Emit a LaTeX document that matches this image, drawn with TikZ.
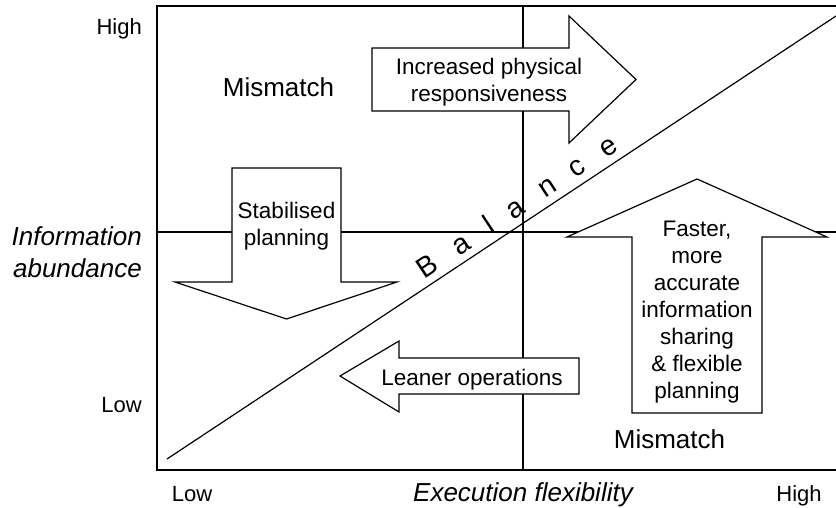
\documentclass[tikz,border=0pt]{standalone}
\usepackage{fontspec}
\setmainfont{Liberation Sans}
\usetikzlibrary{calc}
\begin{document}
\begin{tikzpicture}[x=1pt,y=-1pt,
  rule/.style={line width=1.3pt},
  bigarrow/.style={draw, fill=white, line width=1.2pt, line join=miter},
  small/.style={font=\fontsize{22.5}{27}\selectfont, align=center, inner sep=0pt},
  big/.style={font=\fontsize{26}{31}\selectfont, inner sep=0pt},
  axis/.style={font=\fontsize{26}{31.5}\selectfont\itshape, inner sep=0pt},
  tick/.style={font=\fontsize{22}{26}\selectfont, inner sep=0pt},
  letter/.style={font=\fontsize{28.5}{32}\selectfont, inner sep=0pt, anchor=base, rotate=33.5}]
\useasboundingbox (0,0) rectangle (836,508);

% frame, open towards the right edge
\coordinate (tl) at (157,6);   \coordinate (bl) at (157,470);
\coordinate (tr) at (842,6);   \coordinate (br) at (842,470);
\draw[rule] (tr) -- (tl) -- (bl) -- (br);

% quadrant dividers
\coordinate (ml) at (157,232); \coordinate (mr) at (842,232);
\coordinate (mt) at (523,6);   \coordinate (mb) at (523,470);
\draw[rule] (ml) -- (mr);
\draw[rule] (mt) -- (mb);

% balance line
\coordinate (d0) at (167,459); \coordinate (d1) at (836,16);
\draw[line width=1.2pt] (d0) -- (d1);

% block arrows
\draw[bigarrow] (372,48) -- (569,48) -- (569,16) -- (636,79.5) -- (569,143)
  -- (569,111) -- (372,111) -- cycle;
\draw[bigarrow] (232,168) -- (341,168) -- (341,282) -- (397,282) -- (286.5,319)
  -- (175,282) -- (232,282) -- cycle;
\draw[bigarrow] (579,358) -- (399,358) -- (399,341) -- (340,376) -- (399,412)
  -- (399,394) -- (579,394) -- cycle;
\draw[bigarrow] (632,413) -- (632,237) -- (567,237) -- (697,179) -- (827,237)
  -- (762,237) -- (762,413) -- cycle;

% arrow labels
\node[small] (inc) at (489,82.6) {Increased physical\\responsiveness};
\node[small] (stab) at (286.5,226) {Stabilised\\planning};
\node[small, anchor=base] (lean) at (472,385) {Leaner operations};
\node[small] (fast) at (697,312) {Faster,\\more\\accurate\\information\\sharing\\\&~flexible\\planning};

% quadrant labels
\node[big, anchor=base] (mis1) at (278.5,97) {Mismatch};
\node[big, anchor=base] (mis2) at (669.5,448) {Mismatch};

% balance lettering along the diagonal
\node[letter] (bal1) at ($(d0)!0.403!(d1)!8pt!90:(d1)$) {B};
\node[letter] (bal2) at ($(d0)!0.453!(d1)!8pt!90:(d1)$) {a};
\node[letter] (bal3) at ($(d0)!0.495!(d1)!8pt!90:(d1)$) {l};
\node[letter] (bal4) at ($(d0)!0.534!(d1)!8pt!90:(d1)$) {a};
\node[letter] (bal5) at ($(d0)!0.582!(d1)!8pt!90:(d1)$) {n};
\node[letter] (bal6) at ($(d0)!0.626!(d1)!8pt!90:(d1)$) {c};
\node[letter] (bal7) at ($(d0)!0.673!(d1)!8pt!90:(d1)$) {e};

% vertical axis
\node[tick, anchor=base east] (yhi) at (142,35) {High};
\node[tick, anchor=base east] (ylo) at (142,412) {Low};
\node[axis, align=right, anchor=east] (ylab) at (142,252.3) {Information\\abundance};

% horizontal axis
\node[tick, anchor=base] (xlo) at (192,501) {Low};
\node[axis, anchor=base] (xlab) at (523,501) {Execution flexibility};
\node[tick, anchor=base] (xhi) at (799,501) {High};
\end{tikzpicture}
\end{document}
